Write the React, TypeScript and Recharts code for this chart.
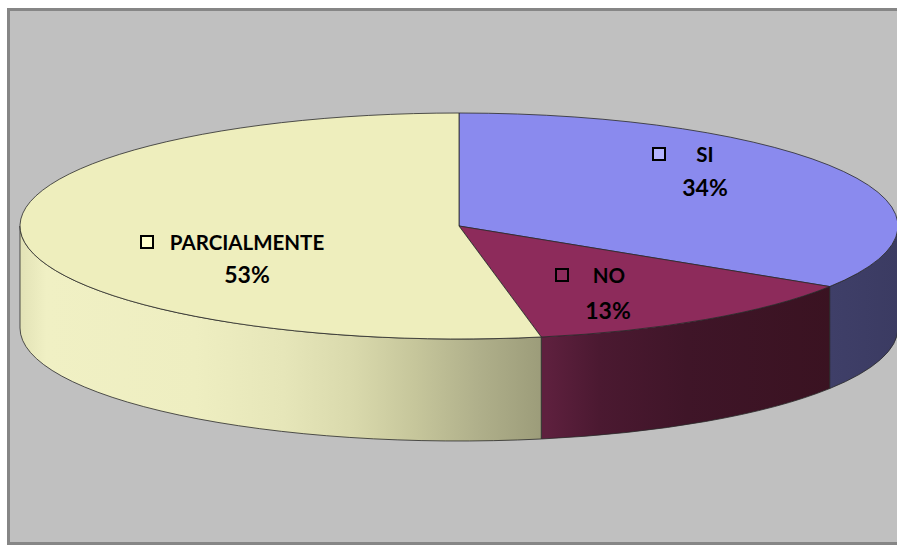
import React from "react"
import { PieChart, Pie } from "recharts"

const categories = ["SI", "NO", "PARCIALMENTE"]
const values = [34, 13, 53]

const topColors = ["#8a8aee", "#8d2b5b", "#eeeebd"]
const keyColors = ["#b4b4ff", "#8d2b5b", "#ffffcc"]
// wall shading, offsets across the full pie width (left -> right)
const wallStops: Array<Array<[number, string]>> = [
  [[0.9, "#40406a"], [1, "#3b3b62"]],
  [[0.6, "#5e203e"], [0.66, "#4b1931"], [0.76, "#3f1528"], [0.95, "#391220"]],
  [
    [0, "#e2e2b6"],
    [0.03, "#f0f0c4"],
    [0.2, "#eeeec1"],
    [0.3, "#e6e6b9"],
    [0.38, "#d9d9ac"],
    [0.45, "#c6c69b"],
    [0.52, "#b0b08b"],
    [0.61, "#989876"],
  ],
]

const data = categories.map((name, i) => ({ name, value: values[i] }))

const TILT = 113 / 439
const DEPTH = 102

// label placement (chart coords)
const labelPos: Record<string, { kx: number; nx: number; px: number; y1: number; y2: number }> = {
  SI: { kx: 649, nx: 695, px: 695, y1: 143, y2: 176 },
  NO: { kx: 552, nx: 599, px: 598, y1: 264, y2: 299 },
  PARCIALMENTE: { kx: 137, nx: 237, px: 237, y1: 231, y2: 263 },
}

function Slice3D(props: any) {
  const { cx, cy, outerRadius, startAngle, endAngle } = props
  const name = props.payload?.name ?? props.name
  const i = categories.indexOf(name)
  const rx = outerRadius
  const ry = outerRadius * TILT
  const pt = (a: number, dy = 0) => {
    const r = (a * Math.PI) / 180
    return `${cx + rx * Math.cos(r)},${cy - ry * Math.sin(r) + dy}`
  }
  const hi = Math.max(startAngle, endAngle)
  const lo = Math.min(startAngle, endAngle)
  const large = hi - lo > 180 ? 1 : 0
  const top = `M${cx},${cy} L${pt(hi)} A${rx},${ry} 0 ${large} 1 ${pt(lo)} Z`

  const a = Math.max(lo, -180)
  const b = Math.min(hi, 0)
  const gid = `wall-${i}`
  let wall = null
  if (a < b) {
    const d = `M${pt(b)} A${rx},${ry} 0 0 1 ${pt(a)} L${pt(a, DEPTH)} A${rx},${ry} 0 0 0 ${pt(b, DEPTH)} Z`
    wall = (
      <>
        <defs>
          <linearGradient id={gid} gradientUnits="userSpaceOnUse" x1={cx - rx} y1={0} x2={cx + rx} y2={0}>
            {wallStops[i].map(([o, c], k) => (
              <stop key={k} offset={o} stopColor={c} />
            ))}
          </linearGradient>
        </defs>
        <path d={d} fill={`url(#${gid})`} stroke="#2a2a2a" strokeWidth={0.8} />
      </>
    )
  }
  return (
    <g>
      {wall}
      <path d={top} fill={topColors[i]} stroke="#2a2a2a" strokeWidth={0.8} />
    </g>
  )
}

function SliceLabel(props: any) {
  const name = props.payload?.name ?? props.name
  const i = categories.indexOf(name)
  const p = labelPos[name]
  if (!p) return null
  const pct = Math.round((props.percent ?? 0) * 100) + "%"
  return (
    <g fontFamily="Lato, 'Liberation Sans', sans-serif" fontWeight={700} fill="#000">
      <rect x={p.kx - 6} y={p.y1 - 6} width={12} height={12} fill={keyColors[i]} stroke="#000" strokeWidth={2} />
      <text x={p.nx} y={p.y1} textAnchor="middle" dominantBaseline="central" fontSize={20.5}>
        {name}
      </text>
      <text x={p.px} y={p.y2} textAnchor="middle" dominantBaseline="central" fontSize={23}>
        {pct}
      </text>
    </g>
  )
}

export default function App() {
  return (
    <>
      <style>{`html,body{margin:0;overflow:hidden;background:#fff}`}</style>
      <div
        style={{
          position: "absolute",
          left: 7,
          top: 8,
          width: 920,
          height: 531,
          borderTop: "3px solid #868686",
          borderLeft: "3px solid #868686",
          borderBottom: "3px solid #868686",
          background: "#c0c0c0",
          overflow: "hidden",
        }}
      >
        <PieChart width={900} height={531} margin={{ top: 0, right: 0, bottom: 0, left: 0 }}>
          <Pie
            data={data}
            dataKey="value"
            nameKey="name"
            cx={449}
            cy={215}
            outerRadius={439}
            startAngle={90}
            endAngle={-270}
            shape={Slice3D}
            label={SliceLabel}
            labelLine={false}
            isAnimationActive={false}
          />
        </PieChart>
      </div>
    </>
  )
}
